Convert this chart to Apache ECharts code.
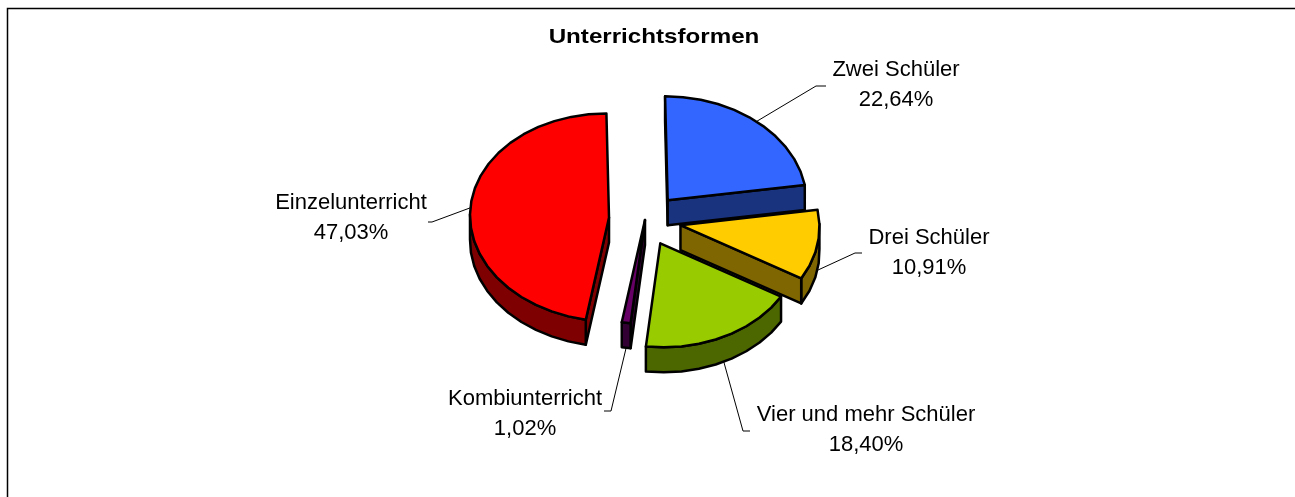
<!DOCTYPE html>
<html>
<head>
<meta charset="utf-8">
<style>
  html, body { margin: 0; padding: 0; background: #fff; }
  #chart { width: 1295px; height: 497px; }
</style>
<script src="https://cdn.jsdelivr.net/npm/echarts@6/dist/echarts.min.js"></script>
</head>
<body>
<div id="chart"></div>
<script>
const categories = ['Zwei Schüler', 'Drei Schüler', 'Vier und mehr Schüler', 'Kombiunterricht', 'Einzelunterricht'];
const shares = [22.64, 10.91, 18.40, 1.02, 47.03];

const TOP_COLORS = ['#3366FF', '#FFCC00', '#99CC00', '#660066', '#FF0000'];
const SIDE_COLORS = ['#19337F', '#7F6600', '#4C6600', '#330033', '#7F0000'];
// how far each slice is pulled out of the pie
const EXPLODE = [0.25, 0.26, 0.25, 0, 0.26];
// leader elbow + label centre, per slice
const LABEL_POS = [
  { elbow: [[816, 86], [826, 86]], x: 896, y: 85 },
  { elbow: [[855, 253], [862, 253]], x: 929, y: 253 },
  { elbow: [[743, 431], [750, 431]], x: 866, y: 430 },
  { elbow: [[611, 411], [604, 411]], x: 525, y: 414 },
  { elbow: [[432, 222], [428, 222]], x: 351, y: 218 }
];

const CX = 645, CY = 220, RX = 139, RY = 104, DEPTH = 25;
const SHEAR = 0.025; // the 3d tilt leans the pie slightly
const ARC_STEP = Math.PI / 24;

const total = shares.reduce((a, b) => a + b, 0);
let acc = 0;
const slices = shares.map((v) => {
  const start = -Math.PI / 2 + (acc / total) * Math.PI * 2;
  acc += v;
  return { start, end: -Math.PI / 2 + (acc / total) * Math.PI * 2 };
});

const fmt = (v) => v.toFixed(2).replace('.', ',') + '%';

function renderSlice(params, api) {
  const i = api.value(0);
  const { start, end } = slices[i];
  const mid = (start + end) / 2;
  const ax = CX + EXPLODE[i] * RX * Math.cos(mid);
  const ay = CY + EXPLODE[i] * RY * Math.sin(mid);
  const rim = (t) => {
    const dy = RY * Math.sin(t);
    return [ax + RX * Math.cos(t) + SHEAR * dy, ay + dy];
  };

  const arc = [];
  const n = Math.max(1, Math.round((end - start) / ARC_STEP));
  for (let k = 0; k <= n; k++) {
    arc.push(rim(start + ((end - start) * k) / n));
  }
  const apex = [ax, ay];
  const children = [];
  const sideStyle = { fill: SIDE_COLORS[i], stroke: '#000', lineWidth: 2.5, lineJoin: 'round' };
  const addSide = (run) => {
    const back = run.slice().reverse().map((p) => [p[0], p[1] + DEPTH]);
    children.push({ type: 'polygon', shape: { points: run.concat(back) }, style: sideStyle });
  };

  // leader line first, the slice sits on top of it
  const from = rim(mid);
  if (Math.sin(mid) > 0) from[1] += DEPTH;
  children.push({
    type: 'polyline',
    shape: { points: [from].concat(LABEL_POS[i].elbow) },
    style: { fill: 'none', stroke: '#000', lineWidth: 1 }
  });

  // side walls: only the edges facing the viewer
  if (arc[0][0] < ax) addSide([apex, arc[0]]);
  let run = [];
  for (let k = 1; k < arc.length; k++) {
    if (arc[k][0] < arc[k - 1][0]) {
      if (!run.length) run.push(arc[k - 1]);
      run.push(arc[k]);
    } else if (run.length) {
      addSide(run);
      run = [];
    }
  }
  if (run.length) addSide(run);
  if (ax < arc[arc.length - 1][0]) addSide([arc[arc.length - 1], apex]);

  children.push({
    type: 'polygon',
    shape: { points: [apex].concat(arc) },
    style: { fill: TOP_COLORS[i], stroke: '#000', lineWidth: 2.5, lineJoin: 'round' }
  });

  children.push({
    type: 'text',
    style: {
      text: categories[i] + '\n' + fmt(shares[i]),
      x: LABEL_POS[i].x,
      y: LABEL_POS[i].y,
      align: 'center',
      verticalAlign: 'middle',
      fontFamily: 'Liberation Sans',
      fontSize: 22,
      lineHeight: 30,
      fill: '#000'
    }
  });
  return { type: 'group', children };
}

const chart = echarts.init(document.getElementById('chart'), null, { renderer: 'canvas' });
chart.setOption({
  animation: false,
  backgroundColor: '#fff',
  graphic: [
    { type: 'polyline', shape: { points: [[7.5, 497], [7.5, 8.5], [1295, 8.5]] }, style: { fill: 'none', stroke: '#000', lineWidth: 1.5 } },
    {
      type: 'text',
      x: 654,
      y: 37,
      scaleX: 1.15,
      style: {
        text: 'Unterrichtsformen',
        align: 'center',
        verticalAlign: 'middle',
        fontFamily: 'Liberation Sans',
        fontWeight: 'bold',
        fontSize: 21,
        fill: '#000'
      }
    }
  ],
  series: [{
    type: 'custom',
    coordinateSystem: 'none',
    renderItem: renderSlice,
    data: shares.map((v, i) => [i, v])
  }]
});
</script>
</body>
</html>
